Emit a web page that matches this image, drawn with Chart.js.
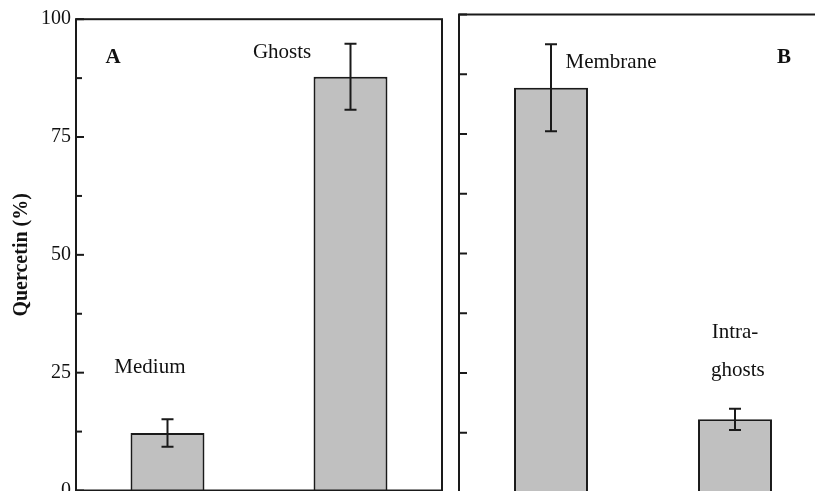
<!DOCTYPE html>
<html>
<head>
<meta charset="utf-8">
<script src="https://cdn.jsdelivr.net/npm/chart.js@4/dist/chart.umd.min.js"></script>
<style>
  html, body { margin: 0; padding: 0; background: #ffffff; overflow: hidden; width: 815px; height: 491px; }
  canvas { position: absolute; top: 0; }
  #panelA { left: 0; }
  #panelB { left: 452px; }
</style>
</head>
<body>
<canvas id="panelA" width="450" height="520"></canvas>
<canvas id="panelB" width="390" height="520"></canvas>
<script>
// Panel A: distribution between medium and ghosts
const panelACategories = ['Medium', 'Ghosts'];
const panelAValues = [12.2, 87.8];
const panelAErrors = [2.9, 7.0];

// Panel B: distribution within ghosts
const panelBCategories = ['Membrane', 'Intra-ghosts'];
const panelBValues = [84.7, 15.3];
const panelBErrors = [9.1, 2.2];

// Labelled y ticks (minor ticks every 12.5 in between)
const yTickLabels = [0, 25, 50, 75, 100];

const INK = '#1a1a1a';
const SERIF = '"Liberation Serif", "Times New Roman", serif';

// Draws error bars, inward tick marks, the panel frame and in-plot text
const panelDecor = {
  id: 'panelDecor',
  afterDatasetsDraw(chart, args, opts) {
    const ctx = chart.ctx;
    const { left, right, top, bottom } = chart.chartArea;
    const xs = chart.scales.x, ys = chart.scales.y;
    ctx.save();
    ctx.strokeStyle = INK;
    ctx.lineWidth = 2;

    const ds = chart.data.datasets[0];
    chart.getDatasetMeta(0).data.forEach((bar, i) => {
      const v = ds.data[i], e = ds.errors[i];
      const yt = ys.getPixelForValue(v + e), yb = ys.getPixelForValue(v - e);
      ctx.beginPath();
      ctx.moveTo(bar.x, yt); ctx.lineTo(bar.x, yb);
      ctx.moveTo(bar.x - 6, yt); ctx.lineTo(bar.x + 6, yt);
      ctx.moveTo(bar.x - 6, yb); ctx.lineTo(bar.x + 6, yb);
      ctx.stroke();
    });

    ys.ticks.forEach(t => {
      const py = ys.getPixelForValue(t.value);
      const len = yTickLabels.includes(t.value) ? opts.majorLen : opts.minorLen;
      ctx.beginPath();
      ctx.moveTo(left, py); ctx.lineTo(left + len, py);
      ctx.stroke();
    });

    ctx.strokeRect(left, top, right - left, bottom - top);

    ctx.fillStyle = '#111';
    ctx.textAlign = 'center';
    ctx.textBaseline = 'middle';
    opts.labels.forEach(l => {
      ctx.font = l.font;
      ctx.fillText(l.text, xs.getPixelForValue(l.at), ys.getPixelForValue(l.value));
    });
    ctx.restore();
  }
};

function tickLabel(v) {
  return yTickLabels.includes(v) ? String(v) : '';
}

function makePanel(id, categories, values, errors, cfg) {
  return new Chart(document.getElementById(id), {
    type: 'bar',
    data: {
      labels: categories,
      datasets: [{
        data: values,
        errors: errors,
        backgroundColor: '#c0c0c0',
        borderColor: INK,
        borderWidth: 2,
        barPercentage: cfg.barPct,
        categoryPercentage: 1.0
      }]
    },
    options: {
      responsive: false,
      animation: false,
      layout: { padding: { top: cfg.top, right: cfg.right, left: 0, bottom: cfg.bottom } },
      plugins: {
        legend: { display: false },
        tooltip: { enabled: false },
        panelDecor: { majorLen: 8, minorLen: cfg.minorLen, labels: cfg.labels }
      },
      scales: {
        x: { display: false },
        y: {
          min: 0, max: 100,
          afterFit: s => { s.width = cfg.axisWidth; },
          grid: { display: false, drawTicks: false },
          border: { display: false },
          ticks: {
            display: cfg.showTicks,
            stepSize: 12.5,
            autoSkip: false,
            padding: 5,
            color: '#111',
            font: { family: SERIF, size: 20 },
            callback: tickLabel
          },
          title: {
            display: cfg.showTicks,
            text: 'Quercetin (%)',
            color: '#111',
            font: { family: SERIF, size: 20, weight: 'bold' },
            padding: { top: 10, bottom: 0 }
          }
        }
      }
    },
    plugins: [panelDecor]
  });
}

makePanel('panelA', panelACategories, panelAValues, panelAErrors, {
  top: 19.2, right: 8, bottom: 29.5, axisWidth: 76, barPct: 0.404,
  showTicks: true, minorLen: 6,
  labels: [
    { text: 'A', at: -0.298, value: 91.8, font: 'bold 21px ' + SERIF },
    { text: 'Medium', at: -0.096, value: 26.0, font: '21px ' + SERIF },
    { text: 'Ghosts', at: 0.626, value: 93.0, font: '21px ' + SERIF }
  ]
});

makePanel('panelB', panelBCategories, panelBValues, panelBErrors, {
  top: 14.5, right: 15, bottom: 27.5, axisWidth: 7, barPct: 0.402,
  showTicks: false, minorLen: 8,
  labels: [
    { text: 'B', at: 1.266, value: 90.9, font: 'bold 21px ' + SERIF },
    { text: 'Membrane', at: 0.326, value: 89.9, font: '21px ' + SERIF },
    { text: 'Intra-', at: 1.0, value: 33.4, font: '21px ' + SERIF },
    { text: 'ghosts', at: 1.016, value: 25.6, font: '21px ' + SERIF }
  ]
});
</script>
</body>
</html>
